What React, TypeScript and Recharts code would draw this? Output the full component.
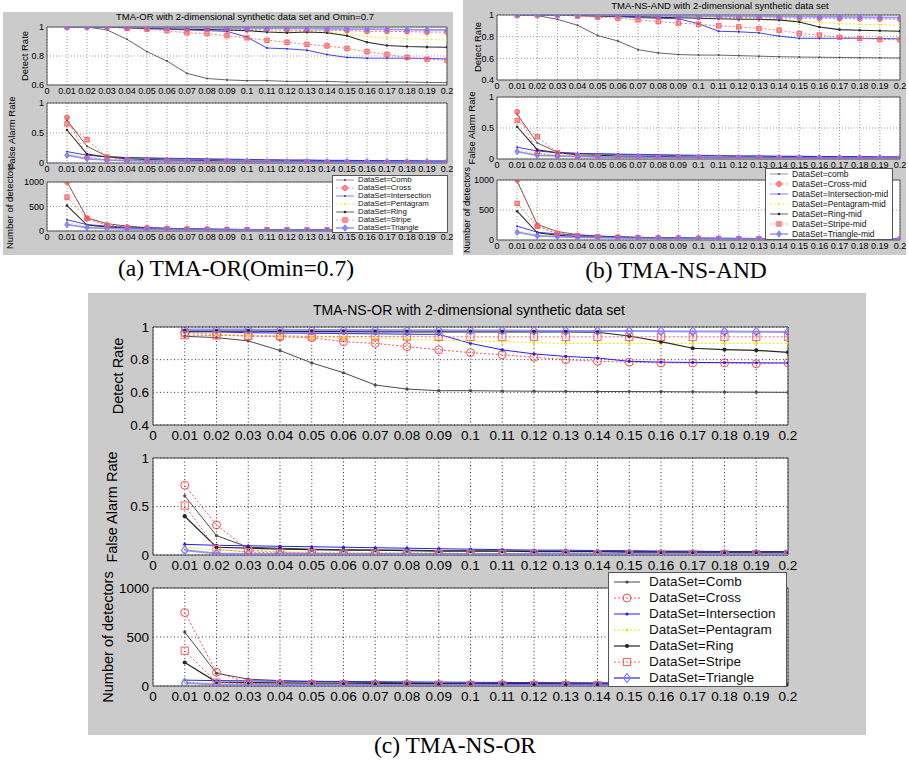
import { CartesianGrid, Legend, Line, LineChart, ReferenceArea, XAxis, YAxis } from "recharts";

// x positions (rs) shared by every subplot
const RS = [0.01, 0.02, 0.03, 0.04, 0.05, 0.06, 0.07, 0.08, 0.09, 0.1, 0.11, 0.12, 0.13, 0.14, 0.15, 0.16, 0.17, 0.18, 0.19, 0.2];
const X_TICKS = [0, 0.01, 0.02, 0.03, 0.04, 0.05, 0.06, 0.07, 0.08, 0.09, 0.1, 0.11, 0.12, 0.13, 0.14, 0.15, 0.16, 0.17, 0.18, 0.19, 0.2];
const X_TICK_LABELS = ["0", "0.01", "0.02", "0.03", "0.04", "0.05", "0.06", "0.07", "0.08", "0.09", "0.1", "0.11", "0.12", "0.13", "0.14", "0.15", "0.16", "0.17", "0.18", "0.19", "0.2"];

const SERIES = ["Comb", "Cross", "Intersection", "Pentagram", "Ring", "Stripe", "Triangle"];
const LEGEND_A = ["DataSet=Comb", "DataSet=Cross", "DataSet=Intersection", "DataSet=Pentagram", "DataSet=Ring", "DataSet=Stripe", "DataSet=Triangle"];
const LEGEND_B = ["DataSet=comb", "DataSet=Cross-mid", "DataSet=Intersection-mid", "DataSet=Pentagram-mid", "DataSet=Ring-mid", "DataSet=Stripe-mid", "DataSet=Triangle-mid"];
const LEGEND_C = LEGEND_A;

const TITLE_A = "TMA-OR with 2-dimensional synthetic data set and Omin=0.7";
const TITLE_B = "TMA-NS-AND with 2-dimensional synthetic data set";
const TITLE_C = "TMA-NS-OR with 2-dimensional synthetic data set";
const CAPTIONS = ["(a) TMA-OR(Omin=0.7)", "(b) TMA-NS-AND", "(c) TMA-NS-OR"];
const Y_LABELS = ["Detect Rate", "False Alarm Rate", "Number of detectors"];

const DETECT_TICKS_A = [0.6, 0.8, 1];
const DETECT_TICKS_BC = [0.4, 0.6, 0.8, 1];
const FALSE_TICKS = [0, 0.5, 1];
const NUMBER_TICKS = [0, 500, 1000];

// (a) TMA-OR(Omin=0.7)
const A_DETECT: Record<string, number[]> = {
  Comb: [1.0, 1.0, 0.98, 0.915, 0.83, 0.765, 0.68, 0.645, 0.635, 0.63, 0.63, 0.625, 0.625, 0.625, 0.62, 0.62, 0.62, 0.62, 0.618, 0.616],
  Cross: [1.0, 1.0, 1.0, 0.995, 0.99, 0.99, 0.985, 0.985, 0.98, 0.98, 0.98, 0.978, 0.975, 0.975, 0.975, 0.97, 0.97, 0.968, 0.965, 0.965],
  Intersection: [1.0, 1.0, 1.0, 0.995, 0.99, 0.985, 0.98, 0.975, 0.97, 0.93, 0.855, 0.85, 0.84, 0.81, 0.79, 0.785, 0.785, 0.785, 0.783, 0.78],
  Pentagram: [1.0, 1.0, 1.0, 0.995, 0.99, 0.988, 0.985, 0.98, 0.98, 0.975, 0.972, 0.97, 0.968, 0.965, 0.95, 0.935, 0.925, 0.92, 0.915, 0.91],
  Ring: [1.0, 1.0, 0.998, 0.995, 0.99, 0.988, 0.985, 0.982, 0.98, 0.975, 0.965, 0.96, 0.965, 0.96, 0.94, 0.895, 0.872, 0.865, 0.862, 0.86],
  Stripe: [1.0, 1.0, 1.0, 0.99, 0.985, 0.975, 0.96, 0.955, 0.94, 0.925, 0.908, 0.895, 0.88, 0.87, 0.852, 0.83, 0.81, 0.79, 0.778, 0.77],
  Triangle: [1.0, 1.0, 1.0, 1.0, 0.998, 0.996, 0.995, 0.993, 0.992, 0.99, 0.99, 0.99, 0.988, 0.987, 0.986, 0.985, 0.984, 0.982, 0.98, 0.98],
};
const A_FALSE: Record<string, number[]> = {
  Comb: [0.71, 0.28, 0.11, 0.09, 0.08, 0.07, 0.065, 0.06, 0.055, 0.05, 0.05, 0.045, 0.045, 0.04, 0.04, 0.04, 0.035, 0.035, 0.03, 0.03],
  Cross: [0.76, 0.1, 0.05, 0.04, 0.03, 0.03, 0.025, 0.02, 0.02, 0.02, 0.02, 0.015, 0.015, 0.015, 0.01, 0.01, 0.01, 0.01, 0.01, 0.01],
  Intersection: [0.19, 0.13, 0.1, 0.09, 0.085, 0.08, 0.075, 0.07, 0.065, 0.06, 0.055, 0.05, 0.05, 0.045, 0.045, 0.04, 0.04, 0.04, 0.035, 0.035],
  Pentagram: [0.15, 0.09, 0.06, 0.05, 0.04, 0.035, 0.03, 0.03, 0.025, 0.025, 0.025, 0.02, 0.02, 0.02, 0.02, 0.02, 0.02, 0.02, 0.02, 0.02],
  Ring: [0.55, 0.15, 0.1, 0.07, 0.06, 0.05, 0.045, 0.04, 0.035, 0.03, 0.03, 0.03, 0.025, 0.025, 0.025, 0.02, 0.02, 0.02, 0.02, 0.02],
  Stripe: [0.65, 0.39, 0.1, 0.05, 0.04, 0.03, 0.025, 0.02, 0.02, 0.02, 0.015, 0.015, 0.015, 0.01, 0.01, 0.01, 0.01, 0.01, 0.01, 0.01],
  Triangle: [0.13, 0.07, 0.05, 0.04, 0.035, 0.03, 0.03, 0.025, 0.025, 0.025, 0.02, 0.02, 0.02, 0.02, 0.02, 0.02, 0.02, 0.02, 0.02, 0.02],
};
const A_NUMBER: Record<string, number[]> = {
  Comb: [1000, 270, 150, 100, 70, 55, 45, 40, 35, 30, 28, 26, 24, 22, 20, 19, 18, 17, 16, 15],
  Cross: [1000, 250, 120, 80, 60, 50, 40, 35, 30, 28, 25, 23, 21, 20, 18, 17, 16, 15, 14, 13],
  Intersection: [230, 130, 100, 80, 65, 55, 45, 40, 35, 32, 30, 28, 26, 24, 22, 21, 20, 19, 18, 17],
  Pentagram: [170, 100, 75, 60, 50, 42, 36, 32, 28, 25, 23, 21, 19, 18, 17, 16, 15, 14, 13, 12],
  Ring: [520, 120, 80, 60, 50, 42, 36, 32, 28, 26, 24, 22, 20, 19, 18, 17, 16, 15, 14, 13],
  Stripe: [690, 260, 110, 70, 55, 45, 38, 33, 30, 27, 25, 23, 21, 20, 19, 18, 17, 16, 15, 14],
  Triangle: [130, 70, 55, 45, 38, 33, 29, 26, 24, 22, 20, 19, 18, 17, 16, 15, 14, 13, 12, 12],
};

// (b) TMA-NS-AND
const B_DETECT: Record<string, number[]> = {
  Comb: [1.0, 0.995, 0.96, 0.905, 0.81, 0.76, 0.68, 0.65, 0.635, 0.63, 0.63, 0.625, 0.62, 0.615, 0.612, 0.61, 0.608, 0.606, 0.605, 0.603],
  Cross: [1.0, 1.0, 1.0, 0.995, 0.99, 0.99, 0.985, 0.985, 0.98, 0.98, 0.98, 0.975, 0.975, 0.972, 0.97, 0.97, 0.968, 0.965, 0.963, 0.96],
  Intersection: [1.0, 1.0, 1.0, 0.995, 0.99, 0.985, 0.975, 0.97, 0.965, 0.92, 0.85, 0.845, 0.835, 0.805, 0.785, 0.785, 0.785, 0.785, 0.782, 0.78],
  Pentagram: [1.0, 1.0, 1.0, 0.995, 0.99, 0.988, 0.985, 0.98, 0.978, 0.975, 0.97, 0.968, 0.965, 0.96, 0.945, 0.93, 0.92, 0.915, 0.91, 0.905],
  Ring: [1.0, 1.0, 0.998, 0.995, 0.99, 0.988, 0.985, 0.98, 0.975, 0.97, 0.965, 0.96, 0.96, 0.955, 0.935, 0.89, 0.865, 0.86, 0.855, 0.85],
  Stripe: [1.0, 1.0, 1.0, 0.99, 0.98, 0.97, 0.955, 0.94, 0.925, 0.915, 0.9, 0.89, 0.875, 0.86, 0.83, 0.815, 0.795, 0.785, 0.775, 0.77],
  Triangle: [1.0, 1.0, 1.0, 1.0, 0.998, 0.996, 0.995, 0.993, 0.99, 0.99, 0.99, 0.988, 0.987, 0.985, 0.984, 0.983, 0.982, 0.98, 0.978, 0.975],
};
const B_FALSE: Record<string, number[]> = {
  Comb: [0.72, 0.26, 0.11, 0.09, 0.08, 0.07, 0.065, 0.06, 0.055, 0.05, 0.05, 0.045, 0.045, 0.04, 0.04, 0.04, 0.035, 0.035, 0.03, 0.03],
  Cross: [0.76, 0.1, 0.05, 0.04, 0.03, 0.03, 0.025, 0.02, 0.02, 0.02, 0.02, 0.015, 0.015, 0.015, 0.01, 0.01, 0.01, 0.01, 0.01, 0.01],
  Intersection: [0.19, 0.13, 0.1, 0.09, 0.085, 0.08, 0.075, 0.07, 0.065, 0.06, 0.055, 0.05, 0.05, 0.045, 0.045, 0.04, 0.04, 0.04, 0.035, 0.035],
  Pentagram: [0.15, 0.08, 0.06, 0.05, 0.04, 0.035, 0.03, 0.03, 0.025, 0.025, 0.025, 0.02, 0.02, 0.02, 0.02, 0.02, 0.02, 0.02, 0.02, 0.02],
  Ring: [0.52, 0.15, 0.1, 0.07, 0.06, 0.05, 0.045, 0.04, 0.035, 0.03, 0.03, 0.03, 0.025, 0.025, 0.025, 0.02, 0.02, 0.02, 0.02, 0.02],
  Stripe: [0.62, 0.36, 0.1, 0.05, 0.04, 0.03, 0.025, 0.02, 0.02, 0.02, 0.015, 0.015, 0.015, 0.01, 0.01, 0.01, 0.01, 0.01, 0.01, 0.01],
  Triangle: [0.12, 0.06, 0.05, 0.04, 0.035, 0.03, 0.03, 0.025, 0.025, 0.025, 0.02, 0.02, 0.02, 0.02, 0.02, 0.02, 0.02, 0.02, 0.02, 0.02],
};
const B_NUMBER: Record<string, number[]> = {
  Comb: [980, 260, 140, 90, 65, 52, 44, 38, 34, 30, 28, 26, 24, 22, 20, 19, 18, 17, 16, 15],
  Cross: [1000, 240, 110, 75, 58, 48, 40, 35, 30, 28, 25, 23, 21, 20, 18, 17, 16, 15, 14, 13],
  Intersection: [230, 130, 100, 80, 65, 55, 45, 40, 35, 32, 30, 28, 26, 24, 22, 21, 20, 19, 18, 17],
  Pentagram: [160, 95, 72, 58, 48, 40, 35, 31, 27, 24, 22, 20, 19, 18, 17, 16, 15, 14, 13, 12],
  Ring: [480, 120, 80, 60, 50, 42, 36, 32, 28, 26, 24, 22, 20, 19, 18, 17, 16, 15, 14, 13],
  Stripe: [610, 230, 100, 68, 54, 44, 37, 33, 30, 27, 25, 23, 21, 20, 19, 18, 17, 16, 15, 14],
  Triangle: [130, 70, 55, 45, 38, 33, 29, 26, 24, 22, 20, 19, 18, 17, 16, 15, 14, 13, 12, 12],
};

// (c) TMA-NS-OR
const C_DETECT: Record<string, number[]> = {
  Comb: [0.943, 0.935, 0.915, 0.856, 0.78, 0.72, 0.645, 0.62, 0.61, 0.61, 0.608, 0.607, 0.606, 0.605, 0.605, 0.604, 0.603, 0.602, 0.601, 0.6],
  Cross: [0.965, 0.955, 0.945, 0.94, 0.935, 0.91, 0.9, 0.88, 0.86, 0.843, 0.83, 0.815, 0.8, 0.79, 0.785, 0.78, 0.78, 0.78, 0.775, 0.78],
  Intersection: [0.97, 0.97, 0.965, 0.963, 0.962, 0.96, 0.958, 0.956, 0.955, 0.9, 0.86, 0.835, 0.82, 0.81, 0.79, 0.785, 0.783, 0.782, 0.781, 0.78],
  Pentagram: [0.96, 0.955, 0.95, 0.945, 0.94, 0.935, 0.93, 0.925, 0.92, 0.915, 0.91, 0.905, 0.9, 0.9, 0.9, 0.9, 0.9, 0.9, 0.9, 0.9],
  Ring: [0.975, 0.975, 0.975, 0.973, 0.972, 0.972, 0.97, 0.97, 0.97, 0.97, 0.97, 0.97, 0.97, 0.968, 0.945, 0.91, 0.87, 0.862, 0.857, 0.845],
  Stripe: [0.95, 0.948, 0.945, 0.945, 0.943, 0.942, 0.942, 0.941, 0.94, 0.94, 0.94, 0.94, 0.94, 0.94, 0.94, 0.94, 0.94, 0.94, 0.94, 0.94],
  Triangle: [0.985, 0.985, 0.984, 0.983, 0.982, 0.982, 0.981, 0.98, 0.98, 0.979, 0.978, 0.977, 0.976, 0.975, 0.975, 0.974, 0.973, 0.972, 0.971, 0.97],
};
const C_FALSE: Record<string, number[]> = {
  Comb: [0.61, 0.2, 0.08, 0.07, 0.06, 0.055, 0.05, 0.05, 0.045, 0.045, 0.04, 0.04, 0.04, 0.035, 0.035, 0.035, 0.03, 0.03, 0.03, 0.03],
  Cross: [0.72, 0.31, 0.05, 0.03, 0.02, 0.02, 0.02, 0.02, 0.015, 0.015, 0.015, 0.015, 0.01, 0.01, 0.01, 0.01, 0.01, 0.01, 0.01, 0.01],
  Intersection: [0.11, 0.1, 0.095, 0.09, 0.085, 0.08, 0.075, 0.07, 0.065, 0.06, 0.055, 0.05, 0.05, 0.045, 0.045, 0.04, 0.04, 0.035, 0.035, 0.035],
  Pentagram: [0.08, 0.05, 0.04, 0.035, 0.03, 0.03, 0.025, 0.025, 0.025, 0.02, 0.02, 0.02, 0.02, 0.02, 0.02, 0.02, 0.02, 0.02, 0.02, 0.02],
  Ring: [0.4, 0.08, 0.07, 0.06, 0.055, 0.05, 0.05, 0.045, 0.04, 0.04, 0.04, 0.035, 0.035, 0.035, 0.03, 0.03, 0.03, 0.03, 0.03, 0.03],
  Stripe: [0.51, 0.06, 0.03, 0.02, 0.02, 0.015, 0.015, 0.015, 0.01, 0.01, 0.01, 0.01, 0.01, 0.01, 0.01, 0.01, 0.01, 0.01, 0.01, 0.01],
  Triangle: [0.05, 0.015, 0.01, 0.01, 0.01, 0.01, 0.01, 0.01, 0.01, 0.01, 0.01, 0.01, 0.01, 0.01, 0.01, 0.01, 0.01, 0.01, 0.01, 0.01],
};
const C_NUMBER: Record<string, number[]> = {
  Comb: [550, 130, 70, 55, 45, 40, 36, 33, 30, 28, 26, 25, 24, 23, 22, 21, 20, 19, 19, 18],
  Cross: [750, 140, 30, 20, 18, 16, 15, 14, 13, 12, 12, 11, 11, 10, 10, 10, 9, 9, 9, 8],
  Intersection: [60, 55, 52, 50, 48, 46, 44, 42, 40, 38, 36, 35, 34, 33, 32, 31, 30, 30, 29, 28],
  Pentagram: [40, 30, 25, 22, 20, 18, 17, 16, 15, 14, 14, 13, 13, 12, 12, 12, 11, 11, 11, 10],
  Ring: [240, 40, 35, 32, 30, 28, 26, 25, 24, 23, 22, 21, 20, 20, 19, 19, 18, 18, 17, 17],
  Stripe: [360, 35, 25, 20, 18, 16, 15, 14, 13, 12, 12, 11, 11, 10, 10, 10, 9, 9, 9, 8],
  Triangle: [30, 15, 12, 10, 10, 9, 9, 8, 8, 8, 7, 7, 7, 7, 6, 6, 6, 6, 6, 6],
};

const SANS = '"Liberation Sans", Arial, Helvetica, sans-serif';
const SERIF = '"Liberation Serif", "Times New Roman", serif';

type Shape = "dot" | "circle" | "square" | "diamond";
const STYLE: Record<string, { color: string; width: number; dash?: string; shape: Shape; r: number }> = {
  Comb: { color: "#4a4a4a", width: 1, shape: "dot", r: 1.6 },
  Cross: { color: "#ff4d4d", width: 1, dash: "2 2", shape: "circle", r: 4 },
  Intersection: { color: "#2020ff", width: 1, shape: "dot", r: 1.6 },
  Pentagram: { color: "#e8e800", width: 1, dash: "2 2", shape: "dot", r: 1.5 },
  Ring: { color: "#262626", width: 1.2, shape: "dot", r: 2.1 },
  Stripe: { color: "#ff6060", width: 1, dash: "2 2", shape: "square", r: 3.6 },
  Triangle: { color: "#7a7aff", width: 2, shape: "diamond", r: 4.5 },
};

type PanelCfg = {
  plotLeft: number;
  plotW: number;
  yAxisW: number;
  mTop: number;
  mRight: number;
  xAxisH: number;
  tickFont: number;
  tickGapX: number;
  tickGapY: number;
  markerScale: number;
  filledMarkers: boolean;
  gridStroke: string;
  gridDash: string;
  border: string;
};

const PANEL_A: PanelCfg = {
  plotLeft: 47, plotW: 400, yAxisW: 30, mTop: 6, mRight: 8, xAxisH: 14,
  tickFont: 9, tickGapX: 2.5, tickGapY: 3, markerScale: 0.6, filledMarkers: true,
  gridStroke: "#9a9a9a", gridDash: "1 2", border: "#555",
};
const PANEL_B: PanelCfg = { ...PANEL_A, plotLeft: 497, plotW: 403, mRight: 6, tickGapX: 3 };
const PANEL_C: PanelCfg = {
  plotLeft: 153, plotW: 635, yAxisW: 63, mTop: 10, mRight: 16, xAxisH: 25,
  tickFont: 13.5, tickGapX: 5, tickGapY: 4, markerScale: 1, filledMarkers: false,
  gridStroke: "#333", gridDash: "1 2.5", border: "#444",
};

function Marker({ cx, cy, name, s, filled }: { cx?: number; cy?: number; name: string; s: number; filled: boolean }) {
  if (cx == null || cy == null) return null;
  const st = STYLE[name];
  const r = st.r * s;
  const fill = st.shape === "dot" || filled ? st.color : "none";
  const fillOpacity = st.shape === "dot" ? 1 : 0.55;
  if (st.shape === "circle") {
    return <circle cx={cx} cy={cy} r={r} fill={fill} fillOpacity={fillOpacity} stroke={st.color} strokeWidth={1} />;
  }
  if (st.shape === "square") {
    return <rect x={cx - r} y={cy - r} width={r * 2} height={r * 2} fill={fill} fillOpacity={fillOpacity} stroke={st.color} strokeWidth={1} />;
  }
  if (st.shape === "diamond") {
    return (
      <path
        d={`M${cx},${cy - r}L${cx + r * 0.75},${cy}L${cx},${cy + r}L${cx - r * 0.75},${cy}Z`}
        fill={fill}
        fillOpacity={fillOpacity}
        stroke={st.color}
        strokeWidth={1.2}
      />
    );
  }
  return <circle cx={cx} cy={cy} r={r} fill={st.color} />;
}

function LegendBox({ labels, font, rowH, padTop, padLeft, iconW, gap, s, filled }: {
  labels: string[]; font: number; rowH: number; padTop: number; padLeft: number; iconW: number; gap: number; s: number; filled: boolean;
}) {
  return (
    <div
      style={{
        width: "100%",
        height: "100%",
        boxSizing: "border-box",
        background: "#fff",
        border: "1px solid #555",
        paddingTop: padTop,
        paddingLeft: padLeft,
        fontFamily: SANS,
        fontSize: font,
        lineHeight: `${rowH}px`,
        color: "#111",
        overflow: "hidden",
      }}
    >
      {SERIES.map((k, i) => {
        const st = STYLE[k];
        return (
          <div key={k} style={{ display: "flex", alignItems: "center", height: rowH, whiteSpace: "nowrap" }}>
            <svg width={iconW} height={rowH} style={{ flex: "none" }}>
              <line x1={0} x2={iconW} y1={rowH / 2} y2={rowH / 2} stroke={st.color} strokeWidth={st.width * s} strokeDasharray={st.dash} />
              <Marker cx={iconW / 2} cy={rowH / 2} name={k} s={s} filled={filled} />
            </svg>
            <span style={{ marginLeft: gap }}>{labels[i]}</span>
          </div>
        );
      })}
    </div>
  );
}

type LegendCfg = { left: number; top: number; width: number; height: number; labels: string[]; font: number; rowH: number; padTop: number; padLeft: number; iconW: number; gap: number };

function Subplot({ panel, top, height, data, yDomain, yTicks, legend }: {
  panel: PanelCfg; top: number; height: number; data: Record<string, number[]>; yDomain: [number, number]; yTicks: number[]; legend?: LegendCfg;
}) {
  const rows = RS.map((rs, i) => {
    const row: Record<string, number> = { rs };
    SERIES.forEach((k) => {
      row[k] = data[k][i];
    });
    return row;
  });
  const chartLeft = panel.plotLeft - panel.yAxisW;
  const chartTop = top - panel.mTop;
  const width = panel.yAxisW + panel.plotW + panel.mRight;
  const chartH = panel.mTop + height + panel.xAxisH;
  const tickStyle = { fontSize: panel.tickFont, fill: "#000", fontFamily: SANS };
  const ws = panel.markerScale < 1 ? 0.85 : 1;

  return (
    <div style={{ position: "absolute", left: chartLeft, top: chartTop }}>
      <LineChart width={width} height={chartH} data={rows} margin={{ top: panel.mTop, right: panel.mRight, bottom: 0, left: 0 }}>
        <CartesianGrid fill="#fff" stroke={panel.gridStroke} strokeDasharray={panel.gridDash} />
        <XAxis
          dataKey="rs"
          type="number"
          domain={[0, 0.2]}
          ticks={X_TICKS}
          interval={0}
          allowDataOverflow
          tickFormatter={(v: number) => X_TICK_LABELS[X_TICKS.findIndex((t) => Math.abs(t - v) < 1e-9)] ?? String(v)}
          tick={tickStyle}
          tickLine={false}
          axisLine={false}
          tickSize={0}
          tickMargin={panel.tickGapX}
          height={panel.xAxisH}
        />
        <YAxis
          type="number"
          domain={yDomain}
          ticks={yTicks}
          interval={0}
          allowDataOverflow
          tickFormatter={(v: number) => String(v)}
          tick={tickStyle}
          tickLine={false}
          axisLine={false}
          tickSize={0}
          tickMargin={panel.tickGapY}
          width={panel.yAxisW}
        />
        <ReferenceArea x1={0} x2={0.2} y1={yDomain[0]} y2={yDomain[1]} fill="none" stroke={panel.border} strokeWidth={1} ifOverflow="visible" />
        {SERIES.map((k) => {
          const st = STYLE[k];
          return (
            <Line
              key={k}
              type="linear"
              dataKey={k}
              stroke={st.color}
              strokeWidth={st.width * ws}
              strokeDasharray={st.dash}
              strokeOpacity={k === "Triangle" ? 0.8 : 1}
              dot={(p: any) => (
                <Marker key={`${k}-${p.index}`} cx={p.cx} cy={p.cy} name={k} s={panel.markerScale} filled={panel.filledMarkers} />
              )}
              activeDot={false}
              isAnimationActive={false}
            />
          );
        })}
        {legend && (
          <Legend
            layout="vertical"
            align="center"
            verticalAlign="middle"
            wrapperStyle={{ left: legend.left - chartLeft, top: legend.top - chartTop, width: legend.width, height: legend.height }}
            content={() => (
              <LegendBox
                labels={legend.labels}
                font={legend.font}
                rowH={legend.rowH}
                padTop={legend.padTop}
                padLeft={legend.padLeft}
                iconW={legend.iconW}
                gap={legend.gap}
                s={panel.markerScale}
                filled={panel.filledMarkers}
              />
            )}
          />
        )}
      </LineChart>
    </div>
  );
}

function Text({ x, y, size, children, rotate, serif }: { x: number; y: number; size: number; children: string; rotate?: boolean; serif?: boolean }) {
  return (
    <div
      style={{
        position: "absolute",
        left: x,
        top: y,
        transform: `translate(-50%, -50%)${rotate ? " rotate(-90deg)" : ""}`,
        whiteSpace: "nowrap",
        fontFamily: serif ? SERIF : SANS,
        fontSize: size,
        lineHeight: 1,
        color: "#000",
      }}
    >
      {children}
    </div>
  );
}

export default function App() {
  return (
    <div style={{ position: "absolute", left: 0, top: 0, width: 908, height: 764, background: "#fff", overflow: "hidden" }}>
      {/* gray figure backgrounds */}
      <div style={{ position: "absolute", left: 3, top: 12, width: 450, height: 243, background: "#cbcbcb" }} />
      <div style={{ position: "absolute", left: 463, top: 0, width: 443, height: 255, background: "#cbcbcb" }} />
      <div style={{ position: "absolute", left: 88, top: 293, width: 778, height: 442, background: "#cbcbcb" }} />

      {/* (a) */}
      <Text x={245} y={17} size={9.5}>{TITLE_A}</Text>
      <Subplot panel={PANEL_A} top={27} height={58} data={A_DETECT} yDomain={[0.6, 1]} yTicks={DETECT_TICKS_A} />
      <Subplot panel={PANEL_A} top={103} height={60} data={A_FALSE} yDomain={[0, 1]} yTicks={FALSE_TICKS} />
      <Subplot
        panel={PANEL_A}
        top={182}
        height={49}
        data={A_NUMBER}
        yDomain={[0, 1000]}
        yTicks={NUMBER_TICKS}
        legend={{ left: 332, top: 175, width: 116, height: 58, labels: LEGEND_A, font: 7.8, rowH: 8, padTop: 0, padLeft: 3, iconW: 18, gap: 4 }}
      />
      <Text x={25} y={56} size={9.5} rotate>{Y_LABELS[0]}</Text>
      <Text x={12} y={133} size={9.5} rotate>{Y_LABELS[1]}</Text>
      <Text x={10} y={206} size={9.5} rotate>{Y_LABELS[2]}</Text>

      {/* (b) */}
      <Text x={720} y={6} size={9.5}>{TITLE_B}</Text>
      <Subplot panel={PANEL_B} top={15} height={65} data={B_DETECT} yDomain={[0.4, 1]} yTicks={DETECT_TICKS_BC} />
      <Subplot panel={PANEL_B} top={97} height={62} data={B_FALSE} yDomain={[0, 1]} yTicks={FALSE_TICKS} />
      <Subplot
        panel={PANEL_B}
        top={180}
        height={60}
        data={B_NUMBER}
        yDomain={[0, 1000]}
        yTicks={NUMBER_TICKS}
        legend={{ left: 765, top: 168, width: 128, height: 72, labels: LEGEND_B, font: 8.5, rowH: 10, padTop: 0, padLeft: 4, iconW: 18, gap: 4 }}
      />
      <Text x={478} y={47} size={9.5} rotate>{Y_LABELS[0]}</Text>
      <Text x={472} y={128} size={9.5} rotate>{Y_LABELS[1]}</Text>
      <Text x={467} y={210} size={9.5} rotate>{Y_LABELS[2]}</Text>

      {/* (c) */}
      <Text x={469} y={310} size={14}>{TITLE_C}</Text>
      <Subplot panel={PANEL_C} top={327} height={98} data={C_DETECT} yDomain={[0.4, 1]} yTicks={DETECT_TICKS_BC} />
      <Subplot panel={PANEL_C} top={458} height={97} data={C_FALSE} yDomain={[0, 1]} yTicks={FALSE_TICKS} />
      <Subplot
        panel={PANEL_C}
        top={588}
        height={98}
        data={C_NUMBER}
        yDomain={[0, 1000]}
        yTicks={NUMBER_TICKS}
        legend={{ left: 608, top: 572, width: 179, height: 115, labels: LEGEND_C, font: 13.5, rowH: 16, padTop: 1, padLeft: 5, iconW: 26, gap: 9 }}
      />
      <Text x={118} y={376} size={14.5} rotate>{Y_LABELS[0]}</Text>
      <Text x={112} y={507} size={14.5} rotate>{Y_LABELS[1]}</Text>
      <Text x={108} y={637} size={14.5} rotate>{Y_LABELS[2]}</Text>

      {/* captions */}
      <Text x={236} y={269} size={23.5} serif>{CAPTIONS[0]}</Text>
      <Text x={676} y={271} size={23.5} serif>{CAPTIONS[1]}</Text>
      <Text x={455} y={746} size={23.5} serif>{CAPTIONS[2]}</Text>
    </div>
  );
}
